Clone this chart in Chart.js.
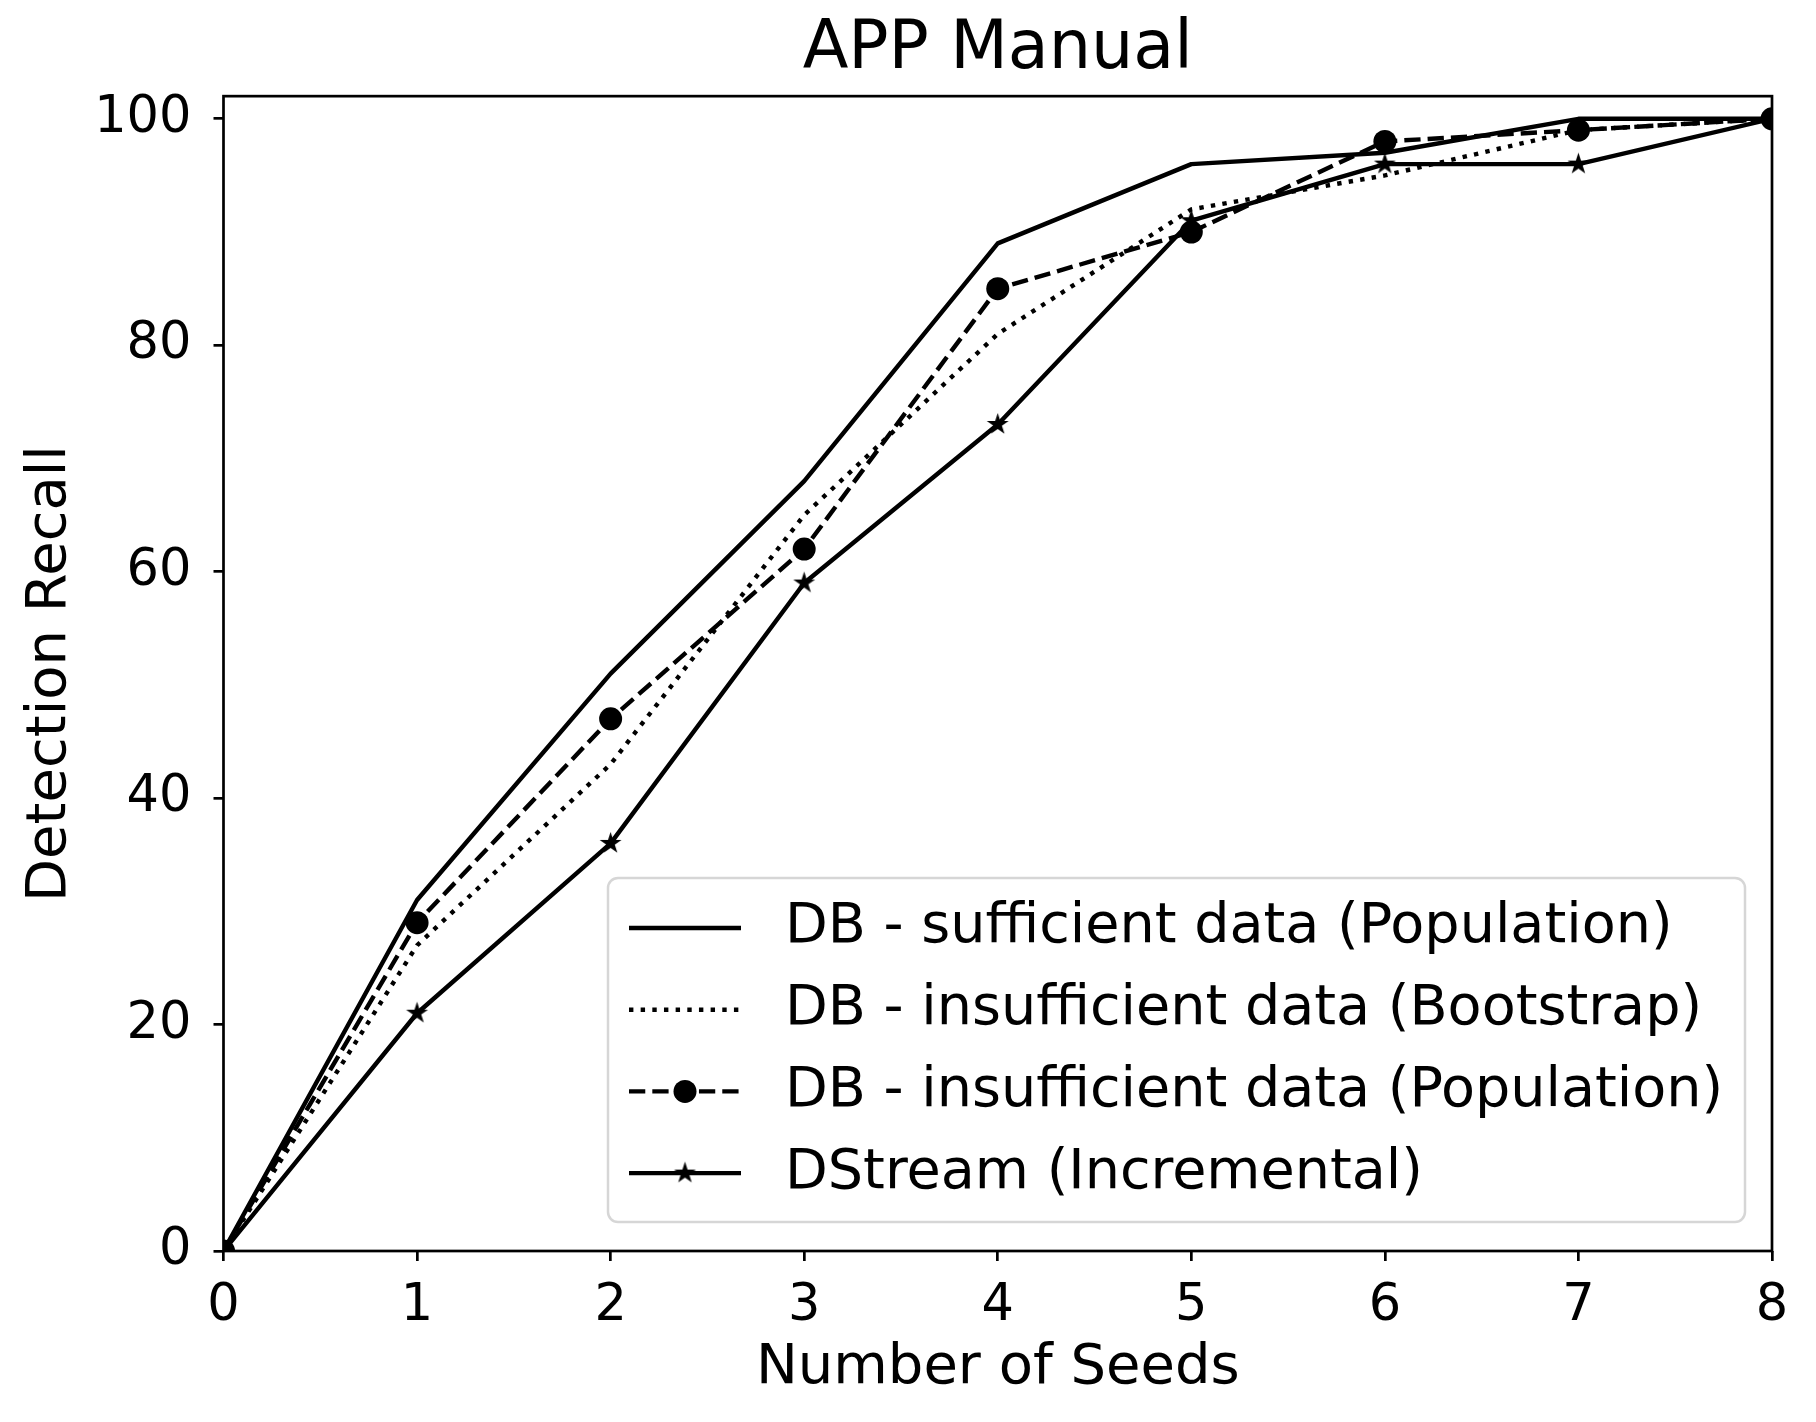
<!DOCTYPE html>
<html>
<head>
<meta charset="utf-8">
<script src="https://cdn.jsdelivr.net/npm/chart.js@4.4.1/dist/chart.umd.min.js"></script>
<style>
  html, body { margin: 0; padding: 0; background: #fff; }
  #wrap { width: 1816px; height: 1422px; }
</style>
</head>
<body>
<div id="wrap"><canvas id="chart" width="1816" height="1422"></canvas></div>
<script>
// values
const seeds = [0, 1, 2, 3, 4, 5, 6, 7, 8];
const dbSufficientPop = [0, 31, 51, 68, 89, 96, 97, 100, 100];
const dbInsufficientBoot = [0, 27, 43, 65, 81, 92, 95, 99, 100];
const dbInsufficientPop = [0, 29, 47, 62, 85, 90, 98, 99, 100];
const dstreamInc = [0, 21, 36, 59, 73, 91, 96, 96, 100];
const yTicks = [0, 20, 40, 60, 80, 100];
const xTicks = [0, 1, 2, 3, 4, 5, 6, 7, 8];

const FONT = "'DejaVu Sans', sans-serif";
const LW = 4.4;

// matplotlib-like filled 5 point star marker
function makeStar(r) {
    const size = Math.ceil(r * 2 + 2);
    const c = document.createElement('canvas');
    c.width = size; c.height = size;
    const ctx = c.getContext('2d');
    const cx = size / 2, cy = size / 2, inner = r * 0.382;
    ctx.beginPath();
    for (let i = 0; i < 10; i++) {
        const rad = i % 2 === 0 ? r : inner;
        const a = -Math.PI / 2 + i * Math.PI / 5;
        const px = cx + rad * Math.cos(a), py = cy + rad * Math.sin(a);
        if (i === 0) ctx.moveTo(px, py); else ctx.lineTo(px, py);
    }
    ctx.closePath();
    ctx.fillStyle = '#000';
    ctx.fill();
    return c;
}
const starMarker = makeStar(11.5);

function toPoints(ys) {
    return seeds.map(function (x, i) { return { x: x, y: ys[i] }; });
}

function series(label, ys, dash, pointStyle, radius, order) {
    return {
        label: label,
        data: toPoints(ys),
        borderColor: '#000',
        backgroundColor: '#000',
        borderWidth: LW,
        borderDash: dash,
        borderCapStyle: 'butt',
        borderJoinStyle: 'round',
        pointStyle: pointStyle,
        pointRadius: radius,
        pointBorderWidth: 0,
        pointBackgroundColor: '#000',
        tension: 0,
        fill: false,
        clip: 0,
        order: order
    };
}

const datasets = [
    series('DB - sufficient data (Population)', dbSufficientPop, [], false, 0, 4),
    series('DB - insufficient data (Bootstrap)', dbInsufficientBoot, [LW * 1, LW * 1.65], false, 0, 3),
    series('DB - insufficient data (Population)', dbInsufficientPop, [LW * 3.7, LW * 1.6], 'circle', 11.5, 2),
    series('DStream (Incremental)', dstreamInc, [], starMarker, 11.5, 1)
];

// top/right spines like a matplotlib axes box
const spines = {
    id: 'spines',
    afterDatasetsDraw: function (chart) {
        const a = chart.chartArea, ctx = chart.ctx;
        ctx.save();
        ctx.strokeStyle = '#000';
        ctx.lineWidth = 2.7;
        ctx.strokeRect(a.left, a.top, a.right - a.left, a.bottom - a.top);
        ctx.restore();
    }
};

function roundRect(ctx, x, y, w, h, r) {
    ctx.beginPath();
    ctx.moveTo(x + r, y);
    ctx.lineTo(x + w - r, y);
    ctx.arcTo(x + w, y, x + w, y + r, r);
    ctx.lineTo(x + w, y + h - r);
    ctx.arcTo(x + w, y + h, x + w - r, y + h, r);
    ctx.lineTo(x + r, y + h);
    ctx.arcTo(x, y + h, x, y + h - r, r);
    ctx.lineTo(x, y + r);
    ctx.arcTo(x, y, x + r, y, r);
    ctx.closePath();
}

// legend drawn with line samples, like matplotlib's
const lineLegend = {
    id: 'lineLegend',
    afterDraw: function (chart) {
        const a = chart.chartArea, ctx = chart.ctx;
        const w = 1137, h = 344;
        const x0 = a.right - 27 - w, y0 = a.bottom - 29 - h;
        ctx.save();
        roundRect(ctx, x0, y0, w, h, 10);
        ctx.fillStyle = 'rgba(255,255,255,0.8)';
        ctx.fill();
        ctx.strokeStyle = '#d6d6d6';
        ctx.lineWidth = 2.5;
        ctx.stroke();
        ctx.font = '55.6px ' + FONT;
        ctx.textBaseline = 'middle';
        ctx.textAlign = 'left';
        chart.data.datasets.forEach(function (ds, i) {
            const cy = y0 + 50 + i * 81.7;
            const lx1 = x0 + 21, lx2 = x0 + 133;
            ctx.strokeStyle = ds.borderColor;
            ctx.lineWidth = ds.borderWidth;
            ctx.lineCap = 'butt';
            ctx.setLineDash(ds.borderDash || []);
            ctx.beginPath();
            ctx.moveTo(lx1, cy);
            ctx.lineTo(lx2, cy);
            ctx.stroke();
            ctx.setLineDash([]);
            const mx = (lx1 + lx2) / 2;
            if (ds.pointStyle === 'circle') {
                ctx.fillStyle = '#000';
                ctx.beginPath();
                ctx.arc(mx, cy, ds.pointRadius, 0, Math.PI * 2);
                ctx.fill();
            } else if (ds.pointStyle && ds.pointStyle.getContext) {
                ctx.drawImage(ds.pointStyle, mx - ds.pointStyle.width / 2, cy - ds.pointStyle.height / 2);
            }
            ctx.fillStyle = '#000';
            ctx.fillText(ds.label, x0 + 177, cy);
        });
        ctx.restore();
    }
};

new Chart(document.getElementById('chart'), {
    type: 'line',
    data: { datasets: datasets },
    plugins: [spines, lineLegend],
    options: {
        responsive: false,
        devicePixelRatio: 1,
        animation: false,
        events: [],
        layout: { padding: { left: 0, right: 44, top: 0, bottom: 0 } },
        plugins: {
            legend: { display: false },
            tooltip: { enabled: false },
            title: {
                display: true,
                text: 'APP Manual',
                color: '#000',
                fullSize: false,
                font: { size: 66.8, family: FONT, weight: 'normal' },
                padding: { top: 11, bottom: 5 }
            }
        },
        scales: {
            x: {
                type: 'linear',
                min: 0,
                max: 8,
                afterBuildTicks: function (s) { s.ticks = xTicks.map(function (v) { return { value: v }; }); },
                afterFit: function (s) { s.height = 171; },
                border: { display: false },
                grid: { drawOnChartArea: false, drawTicks: true, tickLength: 10, color: '#000', lineWidth: 2.7 },
                ticks: { color: '#000', padding: 15, maxRotation: 0, font: { size: 51, family: FONT } },
                title: {
                    display: true,
                    text: 'Number of Seeds',
                    color: '#000',
                    font: { size: 56, family: FONT },
                    padding: { top: 0, bottom: 20 }
                }
            },
            y: {
                type: 'linear',
                min: 0,
                max: 102,
                afterBuildTicks: function (s) { s.ticks = yTicks.map(function (v) { return { value: v }; }); },
                afterFit: function (s) { s.width = 223.5; },
                border: { display: false },
                grid: { drawOnChartArea: false, drawTicks: true, tickLength: 10, color: '#000', lineWidth: 2.7 },
                ticks: { color: '#000', padding: 22, font: { size: 51, family: FONT } },
                title: {
                    display: true,
                    text: 'Detection Recall',
                    color: '#000',
                    font: { size: 56, family: FONT },
                    padding: { top: 17, bottom: 0 }
                }
            }
        }
    }
});
</script>
</body>
</html>
